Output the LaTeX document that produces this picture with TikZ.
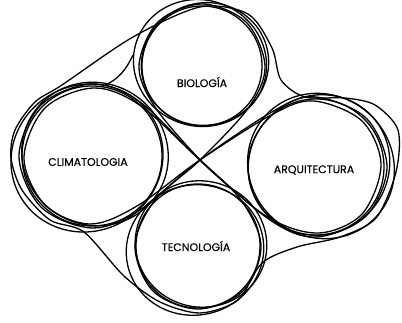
\documentclass[tikz,border=0pt]{standalone}
\usepackage{fontspec}
\setmainfont{Poppins}[FakeBold=0.3]
\usetikzlibrary{positioning}
\tikzset{
  every picture/.style={line width=1.3pt},
  ring/.style={draw, circle, inner sep=0pt, minimum size=#1},
  word/.style={font=\fontsize{11}{12}\selectfont, inner sep=0pt},
  band/.style={draw, line join=round},
}
\begin{document}
\begin{tikzpicture}[x=1pt, y=-1pt]
  \useasboundingbox (0,0) rectangle (402,323);
  % the four fields
  \node[ring=120pt] (bio) at (202,66) {};
  \node[ring=140pt] (clim) at (92,156) {};
  \node[ring=136pt] (arq) at (316,167) {};
  \node[ring=124pt] (tec) at (198,246) {};
  \node[word] (bioT) at (202,82) {BIOLOGÍA};
  \node[word] (climT) at (88,162) {CLIMATOLOGIA};
  \node[word] (arqT) at (314,170) {ARQUITECTURA};
  \node[word] (tecT) at (196,246) {TECNOLOGÍA};
  % rough extra rings
  \foreach \n/\r/\a/\dx/\dy in {bio/60/20/-2/-3, clim/70/-30/-5/2, arq/68/40/5/-1, tec/62/-15/-3/4}{
    \draw (\n) ++(3,-2) ellipse [x radius={(\r+4)*1pt}, y radius={(\r+1)*1pt}, rotate=\a];
    \draw (\n) ++(\dx,\dy) ellipse [x radius={(\r+7)*1pt}, y radius={(\r+3)*1pt}, rotate=-\a];
  }
  % crossing point
  \coordinate (mid) at (200,160);
  % crossed bands
  \draw[band] plot[smooth cycle, tension=0.55] coordinates {(92,84) (140,102) (mid) (270,220) (316,237)
    (366,216) (387,167) (366,118) (316,97) (277,109) (mid) (140,210) (92,228) (41,207) (19,156) (41,105)};
  \draw[band] plot[smooth cycle, tension=0.55] coordinates {(202,4) (246,22) (265,66) (249,107) (mid)
    (155,200) (135,246) (153,291) (198,309) (243,291) (261,246) (241,200) (mid) (155,107) (139,66) (158,22)};
  \draw[band] plot[smooth cycle, tension=0.55] coordinates {(94,88) (141,106) (mid) (266,216) (318,233)
    (362,214) (381,165) (362,121) (314,101) (273,114) (mid) (137,206) (90,224) (45,205) (24,158) (45,108)};
  % outer blob
  \draw[band] plot[smooth cycle, tension=0.5] coordinates {(62,85) (35,102) (15,130) (11,158) (22,190)
    (50,220) (84,232) (124,276) (160,302) (200,313) (238,300) (262,263) (297,247) (340,237) (376,218)
    (396,172) (398,130) (375,105) (345,98) (305,97) (281,80) (272,48) (248,14) (200,7) (133,37)};
  % fillets
  \coordinate (f1) at (103,86);
  \coordinate (f2) at (133,55);
  \draw[band] (f1) .. controls (118,80) and (126,70) .. (f2);
\end{tikzpicture}
\end{document}
